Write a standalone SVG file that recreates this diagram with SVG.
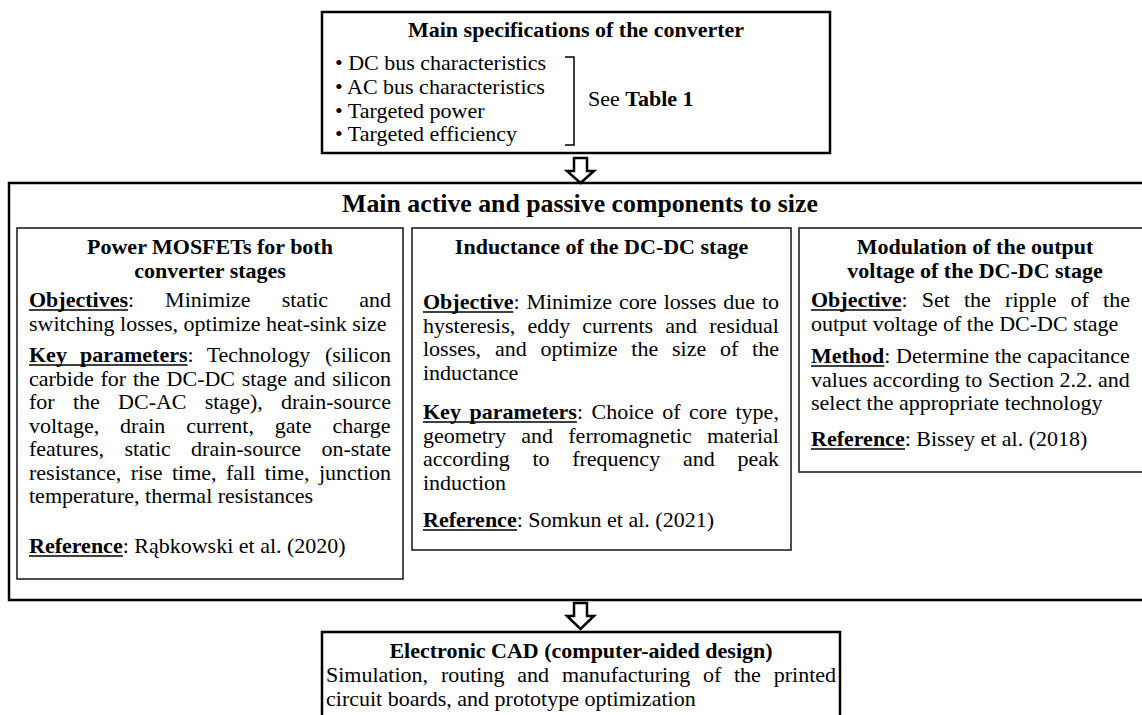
<svg xmlns="http://www.w3.org/2000/svg" width="1142" height="715" viewBox="0 0 1142 715">
<style>
  text { font-family: "Liberation Serif", "Times New Roman", serif; font-size: 22px; fill: #000; }
  .b { font-weight: bold; }
  .c { text-anchor: middle; font-weight: bold; }
  .big { text-anchor: middle; font-weight: bold; font-size: 25.8px; }
  .box { fill: #fff; stroke: #000; stroke-width: 2.5; }
  .inner { fill: #fff; stroke: #222; stroke-width: 1.6; }
  .ul { stroke: #000; stroke-width: 1.5; }
  .arrow { fill: #fff; stroke: #000; stroke-width: 2.5; stroke-linejoin: miter; }
</style>
<rect width="1142" height="715" fill="#fff"/>

<g id="specs">
  <rect class="box" x="322" y="12" width="508" height="141"/>
  <text class="c" x="576" y="37">Main specifications of the converter</text>
  <text x="335" y="70">• DC bus characteristics</text>
  <text x="335" y="94">• AC bus characteristics</text>
  <text x="335" y="117.5">• Targeted power</text>
  <text x="335" y="141">• Targeted efficiency</text>
  <path d="M565,57 H574 V145 H565" fill="none" stroke="#000" stroke-width="1.5"/>
  <text x="588" y="106">See <tspan class="b">Table 1</tspan></text>
</g>

<g id="components">
  <rect class="box" x="9" y="183" width="1160" height="417" stroke-width="3"/>
  <text class="big" x="580" y="212">Main active and passive components to size</text>
</g>

<g id="mosfets">
  <rect class="inner" x="17" y="228" width="386" height="351"/>
  <text class="c" x="210" y="254">Power MOSFETs for both</text>
  <text class="c" x="210" y="278">converter stages</text>
  <text y="307"><tspan x="29" class="b">Objectives</tspan><tspan>:</tspan><tspan x="165.1">Minimize</tspan><tspan x="281.7">static</tspan><tspan x="359.2">and</tspan></text>
  <line class="ul" x1="29" y1="310" x2="128" y2="310"/>
  <text x="29" y="330.5">switching losses, optimize heat-sink size</text>
  <text y="362"><tspan x="29" class="b">Key</tspan><tspan x="80" class="b">parameters</tspan><tspan>:</tspan><tspan x="206.7">Technology</tspan><tspan x="324.9">(silicon</tspan></text>
  <line class="ul" x1="29" y1="365" x2="187.5" y2="365"/>
  <text y="385.5"><tspan x="29">carbide</tspan><tspan x="100.5">for</tspan><tspan x="133">the</tspan><tspan x="166.6">DC-DC</tspan><tspan x="241.8">stage</tspan><tspan x="293.8">and</tspan><tspan x="332.3">silicon</tspan></text>
  <text y="409"><tspan x="29">for</tspan><tspan x="72.9">the</tspan><tspan x="118.1">DC-AC</tspan><tspan x="204.7">stage),</tspan><tspan x="281">drain-source</tspan></text>
  <text y="432.5"><tspan x="29">voltage,</tspan><tspan x="120.1">drain</tspan><tspan x="186.2">current,</tspan><tspan x="274.8">gate</tspan><tspan x="332.4">charge</tspan></text>
  <text y="456"><tspan x="29">features,</tspan><tspan x="124.4">static</tspan><tspan x="191.1">drain-source</tspan><tspan x="321.4">on-state</tspan></text>
  <text y="479.5"><tspan x="29">resistance,</tspan><tspan x="130.7">rise</tspan><tspan x="172">time,</tspan><tspan x="226">fall</tspan><tspan x="264.8">time,</tspan><tspan x="318.9">junction</tspan></text>
  <text x="29" y="503">temperature, thermal resistances</text>
  <text x="29" y="553"><tspan class="b">Reference</tspan>: Rąbkowski et al. (2020)</text>
  <line class="ul" x1="29" y1="556" x2="123" y2="556"/>
</g>

<g id="inductance">
  <rect class="inner" x="412" y="228" width="379" height="322"/>
  <text class="c" x="601.5" y="254">Inductance of the DC-DC stage</text>
  <text y="309"><tspan x="423" class="b">Objective</tspan><tspan>:</tspan><tspan x="526.4">Minimize</tspan><tspan x="618.9">core</tspan><tspan x="663.7">losses</tspan><tspan x="723.2">due</tspan><tspan x="761.9">to</tspan></text>
  <line class="ul" x1="423" y1="312" x2="513.4" y2="312"/>
  <text y="332.5"><tspan x="423">hysteresis,</tspan><tspan x="527.4">eddy</tspan><tspan x="582.3">currents</tspan><tspan x="665.3">and</tspan><tspan x="709.2">residual</tspan></text>
  <text y="356"><tspan x="423">losses,</tspan><tspan x="494.9">and</tspan><tspan x="540.5">optimize</tspan><tspan x="631.3">the</tspan><tspan x="672">size</tspan><tspan x="720">of</tspan><tspan x="752.1">the</tspan></text>
  <text x="423" y="379.5">inductance</text>
  <text y="419"><tspan x="423" class="b">Key</tspan><tspan x="469.4" class="b">parameters</tspan><tspan>:</tspan><tspan x="591.5">Choice</tspan><tspan x="662.3">of</tspan><tspan x="689.1">core</tspan><tspan x="735.5">type,</tspan></text>
  <line class="ul" x1="423" y1="422" x2="576.9" y2="422"/>
  <text y="442.5"><tspan x="423">geometry</tspan><tspan x="521.3">and</tspan><tspan x="568.3">ferromagnetic</tspan><tspan x="706.9">material</tspan></text>
  <text y="466"><tspan x="423">according</tspan><tspan x="532.4">to</tspan><tspan x="572.2">frequency</tspan><tspan x="682.9">and</tspan><tspan x="737.4">peak</tspan></text>
  <text x="423" y="489.5">induction</text>
  <text x="423" y="527"><tspan class="b">Reference</tspan>: Somkun et al. (2021)</text>
  <line class="ul" x1="423" y1="530" x2="517" y2="530"/>
</g>

<g id="modulation">
  <rect class="inner" x="799" y="228" width="360" height="244"/>
  <text class="c" x="975" y="254">Modulation of the output</text>
  <text class="c" x="975" y="278">voltage of the DC-DC stage</text>
  <text y="307"><tspan x="811" class="b">Objective</tspan><tspan>:</tspan><tspan x="921.7">Set</tspan><tspan x="964">the</tspan><tspan x="1005.1">ripple</tspan><tspan x="1070.6">of</tspan><tspan x="1103.1">the</tspan></text>
  <line class="ul" x1="811" y1="310" x2="901.4" y2="310"/>
  <text x="811" y="330.5">output voltage of the DC-DC stage</text>
  <text y="363"><tspan x="811" class="b">Method</tspan><tspan>:</tspan><tspan x="896.1">Determine</tspan><tspan x="994.7">the</tspan><tspan x="1027.3">capacitance</tspan></text>
  <line class="ul" x1="811" y1="366" x2="884.3" y2="366"/>
  <text y="386.5"><tspan x="811">values</tspan><tspan x="872.8">according</tspan><tspan x="965.1">to</tspan><tspan x="987.9">Section</tspan><tspan x="1059.5">2.2.</tspan><tspan x="1098.1">and</tspan></text>
  <text x="811" y="410">select the appropriate technology</text>
  <text x="811" y="446"><tspan class="b">Reference</tspan>: Bissey et al. (2018)</text>
  <line class="ul" x1="811" y1="449" x2="905" y2="449"/>
</g>

<g id="cad">
  <rect class="box" x="322" y="632" width="518" height="90"/>
  <text class="c" x="581" y="658">Electronic CAD (computer-aided design)</text>
  <text y="682"><tspan x="326">Simulation,</tspan><tspan x="440.9">routing</tspan><tspan x="517.3">and</tspan><tspan x="561.9">manufacturing</tspan><tspan x="703">of</tspan><tspan x="734">the</tspan><tspan x="773.7">printed</tspan></text>
  <text x="326" y="705.5">circuit boards, and prototype optimization</text>
</g>

<g id="connectors">
  <path class="arrow" d="M574,158 H587 V171 H594 L580.5,183 L567,171 H574 Z"/>
  <path class="arrow" d="M574,603 H587 V616 H594 L580.5,629 L567,616 H574 Z"/>
</g>
</svg>
